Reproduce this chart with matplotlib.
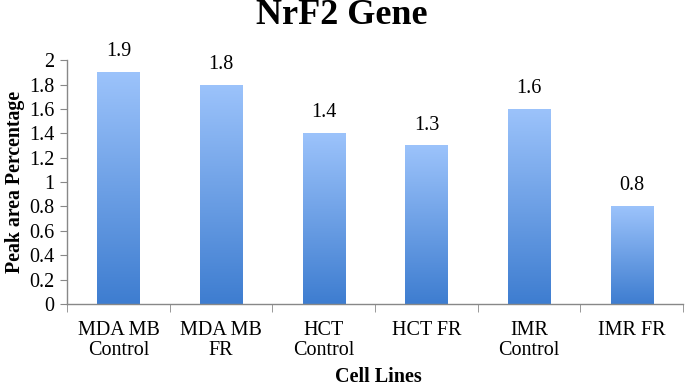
import matplotlib
matplotlib.use("Agg")
import matplotlib.pyplot as plt
import numpy as np
from matplotlib.colors import LinearSegmentedColormap

categories = ["MDA MB\nControl", "MDA MB\nFR", "HCT\nControl", "HCT FR", "IMR\nControl", "IMR FR"]
values = [1.9, 1.8, 1.4, 1.3, 1.6, 0.8]
yticks = [0, 0.2, 0.4, 0.6, 0.8, 1, 1.2, 1.4, 1.6, 1.8, 2]
ytick_labels = ["0", "0.2", "0.4", "0.6", "0.8", "1", "1.2", "1.4", "1.6", "1.8", "2"]

plt.rcParams['font.family'] = ['Liberation Serif', 'DejaVu Serif']

fig = plt.figure(figsize=(6.85, 3.88), dpi=100)
ax = fig.add_axes([0.098, 0.2165, 0.899, 0.6285])

x = np.arange(len(categories))
bars = ax.bar(x, values, width=0.41, color='none', edgecolor='none', zorder=2)

cmap = LinearSegmentedColormap.from_list("g", ["#3e7dd0", "#9cc3fb"])
grad = np.linspace(0, 1, 256).reshape(-1, 1)
for b in bars:
    x0 = b.get_x(); w = b.get_width(); h = b.get_height()
    im = ax.imshow(grad, extent=(x0, x0 + w, 0, h), origin='lower', cmap=cmap,
                   aspect='auto', zorder=2)
    im.set_clip_path(b)

for xi, v in zip(x, values):
    ax.text(xi, v + 0.09, f"{v}", ha='center', va='bottom', fontsize=14.5)

ax.set_xlim(-0.5, len(categories) - 0.5)
ax.set_ylim(0, 2)
ax.set_yticks(yticks)
ax.set_yticklabels(ytick_labels, fontsize=14.5)
ax.set_xticks(x)
ax.set_xticklabels(categories, fontsize=14.5, linespacing=1.12)
ax.tick_params(axis='x', length=0, pad=12)
ax.set_xticks(np.arange(len(categories) + 1) - 0.5, minor=True)
ax.tick_params(axis='x', which='minor', length=6, color='#888888', direction='out')
ax.tick_params(axis='y', length=5, color='#888888', direction='out', pad=4)

for s in ['top', 'right']:
    ax.spines[s].set_visible(False)
for s in ['left', 'bottom']:
    ax.spines[s].set_color('#888888')
    ax.spines[s].set_linewidth(1.0)

ax.set_ylabel("Peak area Percentage", fontsize=14.3, fontweight='bold', labelpad=3)
fig.text(378 / 685, 1 - 382 / 388, "Cell Lines", fontsize=14.5, fontweight='bold',
         ha='center', va='baseline')
fig.text(342 / 685, 1 - 24 / 388, "NrF2 Gene", fontsize=26, fontweight='bold',
         ha='center', va='baseline')

fig.savefig("out.png", dpi=100)
